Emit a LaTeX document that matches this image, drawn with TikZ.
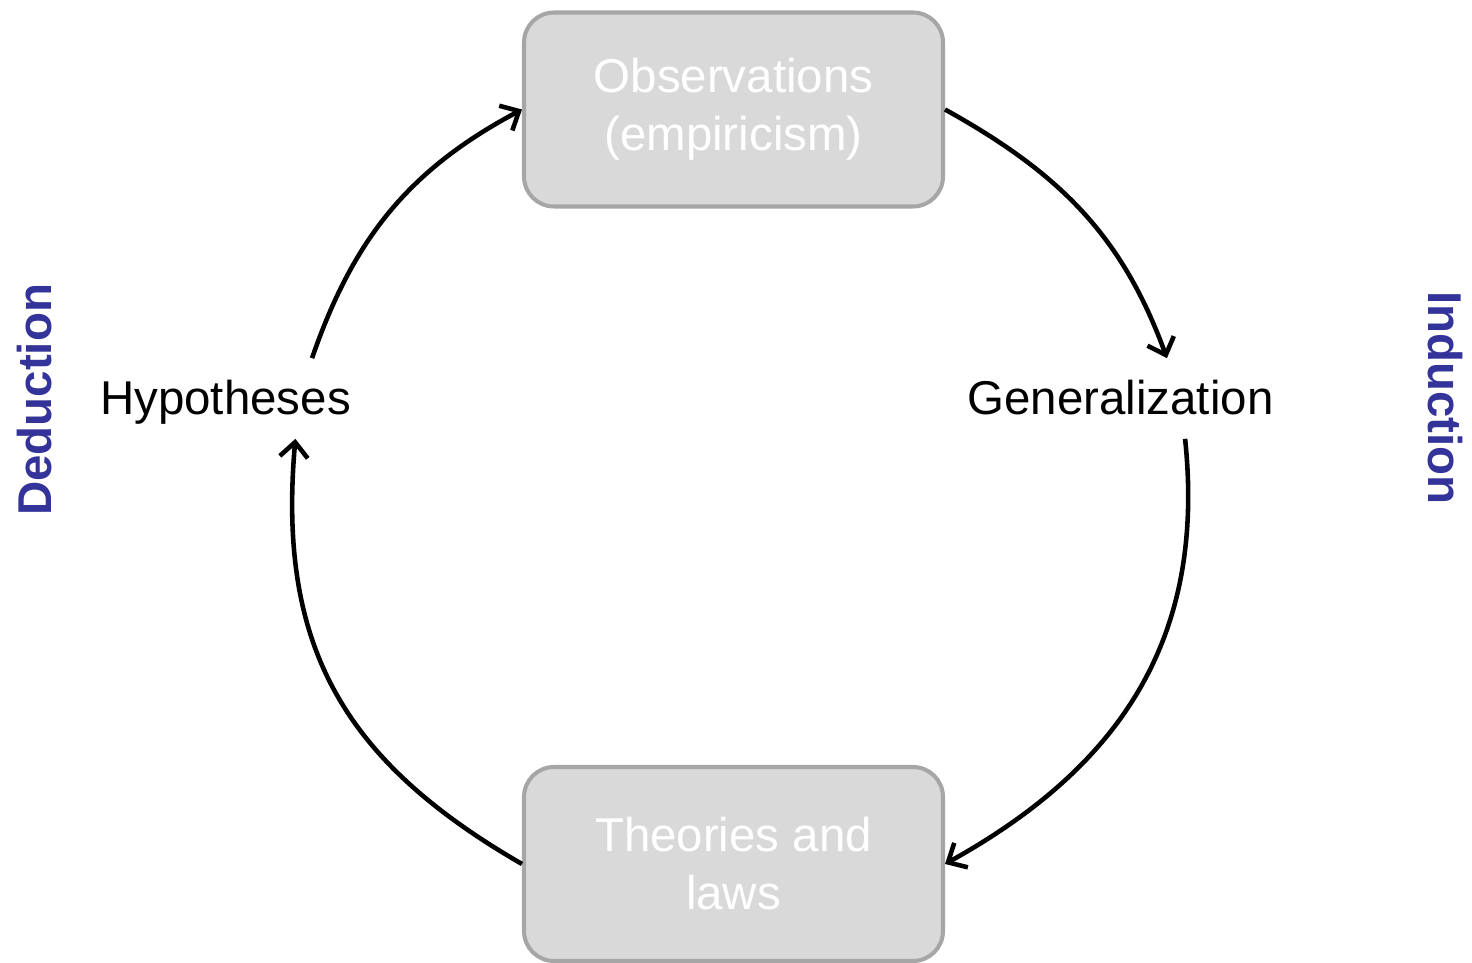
\documentclass[tikz,border=0pt]{standalone}
\usepackage{fontspec}
\setmainfont{Liberation Sans}
\usetikzlibrary{arrows.meta}
\definecolor{boxfill}{HTML}{D9D9D9}
\definecolor{boxline}{HTML}{A6A6A6}
\definecolor{sidelabel}{HTML}{333399}
\begin{document}
\begin{tikzpicture}[
    stage/.style={draw=boxline, line width=2.3pt, fill=boxfill, rounded corners=0.6cm,
        minimum width=8.38cm, minimum height=3.88cm, align=center, text=white,
        font=\fontsize{27}{33}\selectfont},
    step label/.style={minimum height=1.6cm, text height=0.87cm, text depth=0.25cm,
        inner sep=0pt, font=\fontsize{27}{33}\selectfont},
    side/.style={text=sidelabel, font=\fontsize{27}{33}\selectfont\bfseries},
    cycle/.style={line width=2.6pt, -{Straight Barb[length=0.3cm,width=0.56cm]}}
]
    \useasboundingbox (0,0) rectangle (29.44,19.24);

    \node[stage] (obs) at (14.67,17.05) {Observations\\(empiricism)};
    \node[stage] (laws) at (14.67,1.96) {Theories and\\laws};
    \node[step label] (hyp) at (4.51,11.27) {Hypotheses};
    \node[step label] (gen) at (22.41,11.27) {Generalization};

    \node[side, rotate=90] (ded) at (0.7,11.24) {Deduction};
    \node[side, rotate=-90] (ind) at (28.9,11.28) {Induction};

    \draw[cycle] (obs.east) to[out=-29, in=110] (gen.41);
    \draw[cycle] (gen.-32) to[out=-84, in=29, looseness=1.05] (laws.east);
    \draw[cycle] (laws.west) to[out=150, in=-95, looseness=1.1] (hyp.-30);
    \draw[cycle] (hyp.25) to[out=71, in=208] (obs.west);
\end{tikzpicture}
\end{document}
